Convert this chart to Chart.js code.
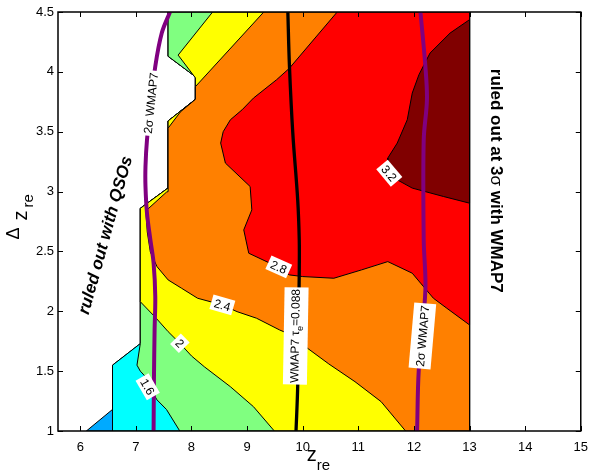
<!DOCTYPE html>
<html>
<head>
<meta charset="utf-8">
<script src="https://cdn.jsdelivr.net/npm/chart.js@4.4.1/dist/chart.umd.min.js"></script>
<style>
  html, body { margin: 0; padding: 0; background: #fff; }
  #wrap { width: 597px; height: 472px; }
</style>
</head>
<body>
<div id="wrap"><canvas id="chart" width="597" height="472"></canvas></div>
<script>
// Axis ticks
const xTicks = [6, 7, 8, 9, 10, 11, 12, 13, 14, 15];
const yTicks = [1, 1.5, 2, 2.5, 3, 3.5, 4, 4.5];

// Contour levels (lower bound of each filled band)
const levels = [1.2, 1.6, 2.0, 2.4, 2.8, 3.2];

// Allowed (z_re, Δz_re) region; the part not covered by higher bands is below 1.2
const allowedRegion = [
  [6.11, 1.00], [6.58, 1.18], [6.58, 1.55], [7.08, 1.73], [7.08, 2.86], [7.58, 3.03],
  [7.58, 3.59], [8.07, 3.77], [8.07, 3.96], [7.58, 4.13], [7.58, 4.50], [13.0, 4.50],
  [13.0, 1.00], [6.11, 1.00]
];
// Superlevel sets, one per contour level
const band12 = [
  [6.58, 1.00], [6.58, 1.55], [7.08, 1.73], [7.08, 2.86], [7.58, 3.03], [7.58, 3.59],
  [8.07, 3.77], [8.07, 3.96], [7.58, 4.13], [7.58, 4.50], [13.0, 4.50], [13.0, 1.00], [6.58, 1.00]
];
const band16 = [
  [7.79, 1.00], [7.55, 1.18], [7.38, 1.26], [7.28, 1.34], [7.20, 1.44], [7.08, 1.50],
  [7.02, 1.55], [7.08, 1.73], [7.08, 2.86], [7.58, 3.03], [7.58, 3.59], [8.07, 3.77],
  [8.07, 3.96], [7.58, 4.13], [7.58, 4.50], [13.0, 4.50], [13.0, 1.00], [7.79, 1.00]
];
const band20 = [
  [9.49, 1.00], [9.115, 1.203], [8.70, 1.37], [8.23, 1.537], [8.00, 1.627], [7.79, 1.733],
  [7.58, 1.83], [7.35, 1.95], [7.08, 2.08], [7.08, 2.86], [7.58, 3.03], [7.58, 3.59],
  [8.07, 3.77], [8.07, 3.95], [7.76, 4.14], [8.38, 4.50], [13.0, 4.50], [13.0, 1.00], [9.49, 1.00]
];
const band24 = [
  [11.85, 1.00], [11.41, 1.245], [10.94, 1.412], [10.47, 1.56], [10.09, 1.69], [9.88, 1.786],
  [9.585, 1.844], [9.17, 1.942], [8.82, 1.997], [8.555, 2.053], [8.11, 2.109], [7.82, 2.193],
  [7.58, 2.262], [7.38, 2.373], [7.26, 2.496], [7.205, 2.663], [7.18, 2.839], [7.55, 2.995],
  [7.58, 3.00], [7.58, 3.53], [7.80, 3.665], [8.07, 3.77], [8.07, 3.876], [9.30, 4.50],
  [13.0, 4.50], [13.0, 1.00], [11.85, 1.00]
];
const band28 = [
  [10.62, 4.50], [9.76, 4.03], [9.53, 3.934], [9.115, 3.781], [8.91, 3.683], [8.70, 3.60],
  [8.57, 3.50], [8.525, 3.405], [8.61, 3.238], [9.055, 3.042], [9.085, 2.847], [8.94, 2.68],
  [9.03, 2.485], [9.41, 2.402], [9.76, 2.304], [10.00, 2.29], [10.56, 2.276], [11.06, 2.346],
  [11.53, 2.415], [11.97, 2.318], [12.12, 2.235], [12.35, 2.109], [12.59, 2.026], [13.0, 1.886],
  [13.0, 4.50], [10.62, 4.50]
];
const band32 = [
  [13.0, 4.436], [12.65, 4.324], [12.29, 4.157], [12.09, 3.976], [11.97, 3.823], [11.88, 3.60],
  [11.70, 3.405], [11.53, 3.28], [11.53, 3.157], [11.70, 3.098], [11.97, 3.029], [12.53, 2.959],
  [13.0, 2.903], [13.0, 4.436]
];

// WMAP7 optical depth curves
const tauLine = [
  [9.733, 4.5], [9.762, 4.045], [9.822, 3.488], [9.91, 2.931], [9.938, 2.597],
  [9.938, 2.321], [9.924, 1.844], [9.91, 1.37], [9.88, 1.0]
];
const sigmaLeft = [
  [7.614, 4.5], [7.466, 4.324], [7.349, 4.045], [7.27, 3.73], [7.20, 3.432], [7.173, 3.209],
  [7.173, 3.042], [7.20, 2.82], [7.261, 2.597], [7.319, 2.402], [7.349, 2.123], [7.337, 1.844],
  [7.325, 1.426], [7.319, 1.0]
];
const sigmaRight = [
  [12.117, 4.5], [12.206, 4.045], [12.234, 3.767], [12.176, 3.432], [12.176, 2.597],
  [12.206, 2.179], [12.087, 1.51], [12.057, 1.0]
];

const FONT = '"Liberation Sans", Arial, Helvetica, sans-serif';
const toPts = a => a.map(([x, y]) => ({ x, y }));

function region(data, color, order) {
  return {
    data: toPts(data), showLine: true, fill: 'shape', backgroundColor: color,
    borderColor: '#000', borderWidth: 1, borderJoinStyle: 'round',
    pointRadius: 0, tension: 0, order
  };
}
function curve(data, color, width, order) {
  return {
    data: toPts(data), showLine: true, fill: false, borderColor: color,
    borderWidth: width, pointRadius: 0, tension: 0.35, order
  };
}

// Text helpers
function fontStr(p) {
  return `${p.style || 'normal'} ${p.weight || 'normal'} ${p.size}px ${FONT}`;
}
function drawRich(ctx, parts, cx, cy, angleDeg, box) {
  ctx.save();
  ctx.translate(cx, cy);
  ctx.rotate(angleDeg * Math.PI / 180);
  let total = 0;
  const widths = parts.map(p => {
    ctx.font = fontStr(p);
    const w = ctx.measureText(p.text).width;
    total += w;
    return w;
  });
  const base = parts[0].size;
  if (box) {
    const bw = total + 2 * box.padX, bh = base + 2 * box.padY;
    ctx.fillStyle = '#fff';
    ctx.fillRect(-bw / 2, -bh / 2 + (box.shift || 0), bw, bh);
  }
  ctx.fillStyle = '#000';
  ctx.textAlign = 'left';
  ctx.textBaseline = 'alphabetic';
  let xp = -total / 2;
  parts.forEach((p, i) => {
    ctx.font = fontStr(p);
    ctx.fillText(p.text, xp, base * 0.36 + (p.dy || 0));
    xp += widths[i];
  });
  ctx.restore();
}

// Labels placed along contours and curves (data coordinates, angle in degrees)
const contourLabelPlacement = [
  { text: '1.6', x: 7.213, y: 1.370, angle: 60 },
  { text: '2',   x: 7.791, y: 1.733, angle: 46 },
  { text: '2.4', x: 8.555, y: 2.053, angle: 16 },
  { text: '2.8', x: 9.57, y: 2.371, angle: 24 },
  { text: '3.2', x: 11.557, y: 3.154, angle: 50 }
];

const annotations = {
  id: 'annotations',
  afterDatasetsDraw(chart) {
    const { ctx, scales: { x, y } } = chart;
    const P = (vx, vy) => [x.getPixelForValue(vx), y.getPixelForValue(vy)];

    contourLabelPlacement.forEach(l => {
      const [px, py] = P(l.x, l.y);
      drawRich(ctx, [{ text: l.text, size: 12 }], px, py, l.angle, { padX: 3, padY: 1.5 });
    });

    let [px, py] = P(9.857, 1.794);
    drawRich(ctx, [
      { text: 'WMAP7 \u03C4', size: 12 },
      { text: 'e', size: 9, dy: 3.5 },
      { text: '=0.088', size: 12 }
    ], px, py, -89, { padX: 1.5, padY: 6, shift: 1 });

    [px, py] = P(12.152, 1.794);
    drawRich(ctx, [{ text: '2\u03C3 WMAP7', size: 12 }], px, py, -85, { padX: 2, padY: 5 });

    [px, py] = P(7.266, 3.739);
    drawRich(ctx, [{ text: '2\u03C3 WMAP7', size: 12 }], px, py, -84, { padX: 2, padY: 5 });

    [px, py] = P(6.436, 2.638);
    drawRich(ctx, [{ text: 'ruled out with QSOs', size: 17, weight: 'bold', style: 'italic' }], px, py, -74.5);

    [px, py] = P(13.50, 3.09);
    drawRich(ctx, [
      { text: 'ruled out at 3', size: 17, weight: 'bold' },
      { text: '\u03C3', size: 17 },
      { text: ' with WMAP7', size: 17, weight: 'bold' }
    ], px, py, 90);
  },
  afterDraw(chart) {
    const { ctx, chartArea: a, scales: { x, y } } = chart;
    ctx.save();
    // frame
    ctx.strokeStyle = '#000';
    ctx.lineWidth = 1.5;
    ctx.strokeRect(a.left, a.top, a.right - a.left, a.bottom - a.top);
    // inward tick marks on all four sides
    ctx.lineWidth = 1;
    ctx.beginPath();
    const tl = 5;
    xTicks.forEach(v => {
      const px = Math.round(x.getPixelForValue(v)) + 0.5;
      ctx.moveTo(px, a.bottom); ctx.lineTo(px, a.bottom - tl);
      ctx.moveTo(px, a.top); ctx.lineTo(px, a.top + tl);
    });
    yTicks.forEach(v => {
      const py = Math.round(y.getPixelForValue(v)) + 0.5;
      ctx.moveTo(a.left, py); ctx.lineTo(a.left + tl, py);
      ctx.moveTo(a.right, py); ctx.lineTo(a.right - tl, py);
    });
    ctx.stroke();

    // axis titles
    ctx.fillStyle = '#000';
    ctx.textBaseline = 'alphabetic';
    ctx.textAlign = 'left';
    const cx = (a.left + a.right) / 2;
    ctx.font = `20px ${FONT}`;
    const zw = ctx.measureText('z').width;
    ctx.font = `15px ${FONT}`;
    const rw = ctx.measureText('re').width;
    const sx = cx - 1 - (zw + rw) / 2;
    ctx.font = `20px ${FONT}`;
    ctx.fillText('z', sx, a.bottom + 30);
    ctx.font = `15px ${FONT}`;
    ctx.fillText('re', sx + zw, a.bottom + 39);

    const cy = (a.top + a.bottom) / 2;
    const put = (t, f, bx, by) => {
      ctx.save();
      ctx.translate(bx, by);
      ctx.rotate(-Math.PI / 2);
      ctx.font = f;
      ctx.fillText(t, 0, 0);
      ctx.restore();
    };
    put('\u0394', `18px ${FONT}`, 19, cy + 18);
    put('z', `20px ${FONT}`, 27, cy - 1);
    put('re', `15px ${FONT}`, 32.5, cy - 14);
    ctx.restore();
  }
};

new Chart(document.getElementById('chart'), {
  type: 'scatter',
  data: {
    datasets: [
      curve(tauLine, '#000000', 3.3, 0),
      curve(sigmaLeft, '#800080', 4, 0),
      curve(sigmaRight, '#800080', 4, 0),
      region(band32, '#800000', 1),
      region(band28, '#ff0000', 2),
      region(band24, '#ff8000', 3),
      region(band20, '#ffff00', 4),
      region(band16, '#80ff80', 5),
      region(band12, '#00ffff', 6),
      region(allowedRegion, '#00aaff', 7)
    ]
  },
  options: {
    responsive: false,
    animation: false,
    events: [],
    layout: { padding: { top: 12, right: 7, left: 0, bottom: 0 } },
    plugins: {
      legend: { display: false },
      tooltip: { enabled: false },
      filler: { propagate: false }
    },
    scales: {
      x: {
        type: 'linear', min: 5.6, max: 15,
        grid: { display: false, drawTicks: false },
        border: { display: false },
        afterBuildTicks: s => { s.ticks = xTicks.map(v => ({ value: v })); },
        afterFit: s => { s.height = 41; },
        ticks: {
          font: { family: FONT, size: 13 }, color: '#000', padding: 9,
          maxRotation: 0, autoSkip: false, callback: v => String(v)
        }
      },
      y: {
        type: 'linear', min: 1, max: 4.5,
        grid: { display: false, drawTicks: false },
        border: { display: false },
        afterBuildTicks: s => { s.ticks = yTicks.map(v => ({ value: v })); },
        afterFit: s => { s.width = 58; },
        ticks: {
          font: { family: FONT, size: 13 }, color: '#000', padding: 4,
          autoSkip: false, callback: v => String(v)
        }
      }
    }
  },
  plugins: [annotations]
});
</script>
</body>
</html>
